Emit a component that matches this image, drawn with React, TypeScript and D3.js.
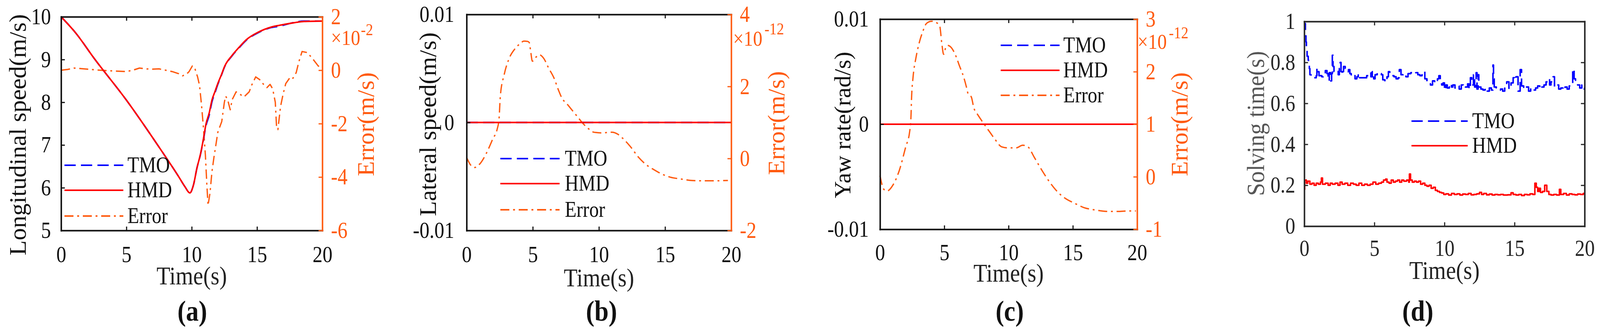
import React, { useRef, useEffect } from 'react';
import * as d3 from 'd3';

type Pt = [number, number];

const W = 4269;
const H = 855;
const FONT = '"Liberation Serif", "Times New Roman", serif';
const ORANGE = '#ff5a0f';
const BLUE = '#0000ff';
const RED = '#ff0000';

const timeTicks = [0, 5, 10, 15, 20];

// (a) longitudinal speed (m/s)
const speedHMD: Pt[] = [
  [0, 10], [1.15, 9.61], [2.5, 9.04], [5, 8.05], [7.5, 6.95], [9, 6.26], [9.47, 6.03], [9.86, 5.88],
  [10.13, 6.06], [10.4, 6.46], [10.68, 6.8], [10.9, 7.15], [11.1, 7.5], [11.34, 7.75], [11.55, 8.05],
  [11.78, 8.25], [12.0, 8.44], [12.27, 8.64], [12.52, 8.84], [13.1, 9.1], [13.64, 9.29], [14.17, 9.46],
  [15.1, 9.64], [16.1, 9.76], [16.7, 9.8], [17.6, 9.85], [18.6, 9.89], [20, 9.9],
];
const speedTMO: Pt[] = [
  [0, 10], [1.15, 9.61], [2.5, 9.04], [5, 8.05], [7.5, 6.95], [9, 6.26], [9.47, 6.03], [9.86, 5.88],
  [10.13, 6.06], [10.4, 6.46], [10.68, 6.79], [10.9, 7.13], [11.1, 7.46], [11.34, 7.7], [11.55, 8.01],
  [11.78, 8.22], [12.0, 8.42], [12.27, 8.63], [12.52, 8.83], [13.1, 9.09], [13.64, 9.28], [14.17, 9.45],
  [15.1, 9.63], [16.1, 9.75], [16.7, 9.78], [17.6, 9.85], [18.6, 9.9], [20, 9.9],
];
// error, x1e-2 m/s
const speedError: Pt[] = [
  [0, 0], [0.5, 0.03], [1, 0.08], [2, 0.04], [3, 0], [4, -0.03], [5, -0.05], [5.5, 0], [6, 0.08], [6.5, 0.05],
  [7, 0.04], [7.5, 0.05], [8, 0], [8.5, -0.05], [9, -0.13], [9.3, -0.21], [9.6, -0.15], [9.8, -0.05], [10.05, 0.16],
  [10.25, 0.05], [10.45, -0.25], [10.6, -0.57], [10.75, -1.3], [10.9, -2.16], [11.05, -3.2], [11.15, -4.2],
  [11.25, -5.06], [11.4, -4.6], [11.55, -3.8], [11.7, -3.27], [11.85, -2.8], [12.0, -2.32], [12.3, -1.92],
  [12.5, -1.2], [12.6, -0.97], [12.75, -1.1], [12.95, -1.48], [13.1, -1.1], [13.4, -0.81], [13.7, -0.9],
  [14.0, -1.0], [14.4, -0.81], [14.6, -0.55], [14.9, -0.25], [15.2, -0.35], [15.5, -0.53], [15.76, -0.65],
  [16.0, -0.53], [16.2, -0.7], [16.4, -1.2], [16.5, -2.16], [16.6, -2.22], [16.8, -1.36], [17.0, -0.89],
  [17.2, -0.5], [17.56, -0.25], [17.75, -0.3], [18.0, -0.09], [18.2, 0.31], [18.45, 0.7], [18.85, 0.66],
  [19.26, 0.43], [19.7, 0.15], [20, 0.23],
];

// (b) lateral speed (m/s)
const lateralHMD: Pt[] = [[0, 0], [20, 0]];
const lateralTMO: Pt[] = [[0, 0], [20, 0]];
// error, x1e-12 m/s
const lateralError: Pt[] = [
  [0, 0.03], [0.3, -0.18], [0.6, -0.25], [1.0, -0.15], [1.5, 0.15], [2.0, 0.56], [2.3, 0.8], [2.45, 1.1],
  [2.55, 1.74], [2.84, 2.33], [3.24, 2.8], [3.64, 3.04], [4.04, 3.19], [4.33, 3.26], [4.63, 3.25], [4.73, 3.22],
  [4.85, 2.95], [4.97, 2.7], [5.23, 2.81], [5.5, 2.88], [5.83, 2.78], [6.2, 2.51], [6.62, 2.22], [6.92, 1.92],
  [7.2, 1.68], [7.6, 1.51], [8.0, 1.33], [8.4, 1.15], [8.8, 0.97], [9.2, 0.83], [9.6, 0.73], [10.2, 0.71],
  [11.0, 0.73], [11.4, 0.68], [11.8, 0.56], [12.4, 0.32], [13.0, 0.03], [13.6, -0.18], [14.2, -0.32],
  [14.8, -0.44], [15.4, -0.52], [16.2, -0.57], [17.0, -0.61], [17.75, -0.62], [18.75, -0.62], [19.75, -0.61],
];

// (c) yaw rate (rad/s)
const yawHMD: Pt[] = [[0, 0], [20, 0]];
const yawTMO: Pt[] = [[0, 0], [20, 0]];
const yawError: Pt[] = [
  [0, 0.02], [0.3, -0.24], [0.55, -0.27], [1, -0.16], [1.5, 0.12], [2, 0.57], [2.3, 0.85], [2.4, 1.1],
  [2.46, 1.54], [2.56, 1.87], [2.8, 2.27], [3.05, 2.55], [3.32, 2.76], [3.62, 2.92], [4.0, 2.96], [4.34, 2.94],
  [4.65, 2.86], [4.8, 2.55], [4.95, 2.33], [5.1, 2.45], [5.26, 2.5], [5.57, 2.45], [5.88, 2.31], [6.18, 2.11],
  [6.49, 1.91], [6.73, 1.7], [6.85, 1.58], [7.1, 1.52], [7.31, 1.3], [7.5, 1.22], [7.82, 1.1], [8.13, 0.99],
  [8.54, 0.85], [8.95, 0.71], [9.46, 0.57], [9.97, 0.55], [10.58, 0.55], [11.1, 0.6], [11.5, 0.57],
  [12.0, 0.37], [12.6, 0.12], [13.25, -0.12], [13.86, -0.3], [14.47, -0.42], [15.1, -0.5], [15.9, -0.59],
  [16.7, -0.63], [17.75, -0.66], [18.57, -0.66], [19.4, -0.65], [19.9, -0.65],
];

// (d) solving time (s)
const solvingTMO: Pt[] = [
  [0, 0.97], [0.04, 0.99], [0.08, 0.93], [0.12, 0.9], [0.15, 0.86], [0.2, 0.83], [0.28, 0.81], [0.36, 0.77],
  [0.4, 0.74], [0.48, 0.73], [0.65, 0.725], [0.85, 0.735], [0.9, 0.775], [0.95, 0.755], [1.05, 0.735],
  [1.25, 0.73], [1.35, 0.745], [1.5, 0.76], [1.62, 0.745], [1.7, 0.71], [1.78, 0.75], [1.88, 0.71],
  [1.95, 0.745], [2.0, 0.835], [2.05, 0.78], [2.12, 0.755], [2.3, 0.76], [2.42, 0.74], [2.5, 0.77],
  [2.56, 0.8], [2.62, 0.74], [2.7, 0.755], [2.8, 0.78], [2.92, 0.77], [3.05, 0.755], [3.15, 0.765],
  [3.25, 0.745], [3.35, 0.73], [3.5, 0.735], [3.62, 0.72], [3.75, 0.73], [3.85, 0.745], [3.95, 0.725],
  [4.1, 0.725], [4.3, 0.725], [4.45, 0.735], [4.6, 0.75], [4.75, 0.73], [4.85, 0.755], [4.95, 0.72],
  [5.05, 0.74], [5.2, 0.75], [5.35, 0.745], [5.5, 0.74], [5.6, 0.715], [5.75, 0.705], [5.9, 0.73],
  [6.0, 0.755], [6.1, 0.74], [6.25, 0.735], [6.4, 0.73], [6.55, 0.72], [6.7, 0.725], [6.78, 0.765],
  [6.9, 0.74], [7.05, 0.745], [7.25, 0.73], [7.4, 0.745], [7.6, 0.75], [7.75, 0.755], [7.95, 0.75],
  [8.1, 0.74], [8.25, 0.735], [8.4, 0.75], [8.5, 0.755], [8.6, 0.72], [8.75, 0.705], [8.9, 0.7],
  [9.0, 0.69], [9.15, 0.71], [9.3, 0.7], [9.42, 0.7], [9.5, 0.72], [9.6, 0.735], [9.7, 0.71], [9.8, 0.69],
  [9.9, 0.7], [10.0, 0.665], [10.1, 0.69], [10.2, 0.675], [10.35, 0.695], [10.5, 0.68], [10.6, 0.69],
  [10.75, 0.675], [10.9, 0.685], [11.05, 0.67], [11.2, 0.69], [11.35, 0.675], [11.5, 0.68], [11.65, 0.695],
  [11.75, 0.67], [11.85, 0.725], [11.95, 0.69], [12.07, 0.74], [12.15, 0.68], [12.26, 0.75], [12.32, 0.67],
  [12.4, 0.74], [12.45, 0.68], [12.6, 0.67], [12.75, 0.665], [12.9, 0.675], [13.05, 0.66], [13.2, 0.675],
  [13.35, 0.665], [13.46, 0.787], [13.5, 0.72], [13.55, 0.68], [13.7, 0.675], [13.85, 0.665], [14.0, 0.67],
  [14.15, 0.66], [14.3, 0.68], [14.44, 0.705], [14.6, 0.67], [14.75, 0.7], [14.9, 0.725], [15.0, 0.715],
  [15.1, 0.73], [15.25, 0.66], [15.4, 0.765], [15.5, 0.685], [15.65, 0.67], [15.8, 0.68], [16.0, 0.66],
  [16.15, 0.675], [16.3, 0.665], [16.5, 0.675], [16.65, 0.685], [16.8, 0.67], [16.95, 0.68], [17.1, 0.69],
  [17.25, 0.705], [17.4, 0.72], [17.5, 0.69], [17.6, 0.705], [17.75, 0.73], [17.85, 0.68], [18.0, 0.69],
  [18.15, 0.67], [18.3, 0.675], [18.45, 0.665], [18.6, 0.68], [18.75, 0.67], [18.9, 0.685], [19.05, 0.69],
  [19.15, 0.768], [19.25, 0.72], [19.35, 0.7], [19.5, 0.69], [19.65, 0.675], [19.8, 0.69], [19.9, 0.67],
  [20.0, 0.68],
];
const solvingHMD: Pt[] = [
  [0, 0.18], [0.03, 0.225], [0.15, 0.21], [0.25, 0.22], [0.4, 0.205], [0.55, 0.21], [0.7, 0.2], [0.85, 0.21],
  [1.0, 0.205], [1.15, 0.215], [1.22, 0.235], [1.3, 0.205], [1.5, 0.21], [1.7, 0.2], [1.85, 0.21], [2.0, 0.205],
  [2.2, 0.21], [2.4, 0.2], [2.55, 0.215], [2.7, 0.205], [2.9, 0.21], [3.1, 0.2], [3.3, 0.21], [3.5, 0.205],
  [3.7, 0.2], [3.9, 0.21], [4.1, 0.2], [4.3, 0.205], [4.5, 0.2], [4.7, 0.205], [4.9, 0.215], [5.1, 0.205],
  [5.3, 0.21], [5.5, 0.215], [5.65, 0.225], [5.8, 0.23], [5.9, 0.215], [6.05, 0.21], [6.2, 0.225],
  [6.35, 0.215], [6.5, 0.22], [6.65, 0.225], [6.8, 0.215], [6.95, 0.225], [7.1, 0.22], [7.3, 0.225],
  [7.45, 0.215], [7.5, 0.255], [7.58, 0.225], [7.7, 0.215], [7.85, 0.22], [8.0, 0.215], [8.15, 0.22],
  [8.3, 0.205], [8.45, 0.21], [8.6, 0.2], [8.75, 0.195], [8.9, 0.2], [9.05, 0.185], [9.2, 0.19], [9.35, 0.175],
  [9.5, 0.17], [9.65, 0.165], [9.8, 0.162], [9.95, 0.155], [10.1, 0.158], [10.3, 0.152], [10.5, 0.16],
  [10.7, 0.155], [10.9, 0.158], [11.1, 0.152], [11.3, 0.157], [11.5, 0.155], [11.7, 0.16], [11.9, 0.153],
  [12.1, 0.155], [12.3, 0.158], [12.5, 0.165], [12.65, 0.155], [12.8, 0.16], [13.0, 0.153], [13.2, 0.157],
  [13.4, 0.152], [13.6, 0.155], [13.8, 0.153], [14.0, 0.155], [14.2, 0.152], [14.5, 0.153], [14.75, 0.163],
  [14.9, 0.155], [15.1, 0.152], [15.3, 0.155], [15.5, 0.15], [15.7, 0.155], [15.9, 0.153], [16.1, 0.158],
  [16.3, 0.155], [16.45, 0.21], [16.55, 0.19], [16.65, 0.17], [16.75, 0.185], [16.85, 0.165], [17.0, 0.17],
  [17.15, 0.2], [17.3, 0.17], [17.45, 0.155], [17.6, 0.152], [17.8, 0.155], [18.0, 0.152], [18.2, 0.18],
  [18.3, 0.155], [18.5, 0.16], [18.7, 0.152], [18.9, 0.158], [19.1, 0.155], [19.3, 0.153], [19.5, 0.157],
  [19.7, 0.155], [19.9, 0.16], [20.0, 0.163],
];

const speedTicks = [5, 6, 7, 8, 9, 10];
const speedErrTicks = [-6, -4, -2, 0, 2];
const rateTicks = [-0.01, 0, 0.01];
const lateralErrTicks = [-2, 0, 2, 4];
const yawErrTicks = [-1, 0, 1, 2, 3];
const solvingTicks = [0, 0.2, 0.4, 0.6, 0.8, 1];

const DASH = '30 14';
const DASHDOT = '24 10 5 10';
const TICK_FONT = 53;
// glyphs in the source figure are a little taller than wide
const K = 1.1;

interface Series { data: Pt[]; right?: boolean; color: string; dash?: string; width: number; step?: boolean; smooth?: boolean }
interface Panel {
  box: { l: number; r: number; t: number; b: number };
  yL: [number, number]; yLTicks: number[];
  yR?: [number, number]; yRTicks?: number[];
  mult?: { x: number; y: number; ex: number; ey: number; exp: string };
  series: Series[];
  legend: { x1: number; x2: number; tx: number; rows: number[]; items: { label: string; color: string; dash?: string }[] };
  yLabel: { text: string; x: number; y: number; size: number; color: string; len?: number };
  rLabel?: { x: number; y: number };
  xPad: number; xLabelY: number; yPad: number;
  tag: { text: string; x: number; y: number };
  axisColor: string; textColor: string;
}

const legend3 = [
  { label: 'TMO', color: BLUE, dash: DASH },
  { label: 'HMD', color: RED },
  { label: 'Error', color: ORANGE, dash: DASHDOT },
];

const panels: Panel[] = [
  {
    box: { l: 163, r: 860, t: 43, b: 590 },
    yL: [5, 10], yLTicks: speedTicks, yR: [-6, 2], yRTicks: speedErrTicks,
    mult: { x: 883, y: 115, ex: 963, ey: 90, exp: '-2' },
    series: [
      { data: speedError, right: true, color: ORANGE, dash: DASHDOT, width: 3.5 },
      { data: speedTMO, color: BLUE, dash: DASH, width: 4, smooth: true },
      { data: speedHMD, color: RED, width: 4, smooth: true },
    ],
    legend: { x1: 172, x2: 329, tx: 340, rows: [423, 487, 553], items: legend3 },
    yLabel: { text: 'Longitudinal speed(m/s)', x: 69, y: 345, size: 63, color: '#111' },
    rLabel: { x: 997, y: 318 },
    xPad: 40, xLabelY: 728, yPad: 27,
    tag: { text: '(a)', x: 513, y: 821 },
    axisColor: '#111', textColor: '#111',
  },
  {
    box: { l: 1245, r: 1951, t: 37, b: 590 },
    yL: [-0.01, 0.01], yLTicks: rateTicks, yR: [-2, 4], yRTicks: lateralErrTicks,
    mult: { x: 1956, y: 117, ex: 2040, ey: 88, exp: '-12' },
    series: [
      { data: lateralError, right: true, color: ORANGE, dash: DASHDOT, width: 3.5, smooth: true },
      { data: lateralTMO, color: BLUE, dash: DASH, width: 4 },
      { data: lateralHMD, color: RED, width: 4 },
    ],
    legend: { x1: 1335, x2: 1493, tx: 1507, rows: [406, 470, 537], items: legend3 },
    yLabel: { text: 'Lateral speed(m/s)', x: 1163, y: 318, size: 63, color: '#111' },
    rLabel: { x: 2093, y: 315 },
    xPad: 40, xLabelY: 733, yPad: 33,
    tag: { text: '(b)', x: 1605, y: 821 },
    axisColor: '#111', textColor: '#111',
  },
  {
    box: { l: 2348, r: 3034, t: 49, b: 587 },
    yL: [-0.01, 0.01], yLTicks: rateTicks, yR: [-1, 3], yRTicks: yawErrTicks,
    mult: { x: 3035, y: 125, ex: 3119, ey: 98, exp: '-12' },
    series: [
      { data: yawError, right: true, color: ORANGE, dash: DASHDOT, width: 3.5, smooth: true },
      { data: yawTMO, color: BLUE, dash: DASH, width: 4 },
      { data: yawHMD, color: RED, width: 4 },
    ],
    legend: { x1: 2670, x2: 2827, tx: 2837, rows: [116, 180, 244], items: legend3 },
    yLabel: { text: 'Yaw rate(rad/s)', x: 2269, y: 320, size: 61, color: '#111' },
    rLabel: { x: 3168, y: 318 },
    xPad: 38, xLabelY: 721, yPad: 30,
    tag: { text: '(c)', x: 2694, y: 821 },
    axisColor: '#111', textColor: '#111',
  },
  {
    box: { l: 3480, r: 4228, t: 55, b: 579 },
    yL: [0, 1], yLTicks: solvingTicks,
    series: [
      { data: solvingTMO, color: BLUE, dash: DASH, width: 4, step: true },
      { data: solvingHMD, color: RED, width: 4, step: true },
    ],
    legend: { x1: 3766, x2: 3916, tx: 3928, rows: [310, 373], items: legend3.slice(0, 2) },
    yLabel: { text: 'Solving time(s)', x: 3373, y: 316, size: 66, color: '#555', len: 371 },
    xPad: 35, xLabelY: 714, yPad: 24,
    tag: { text: '(d)', x: 3783, y: 821 },
    axisColor: '#262626', textColor: '#262626',
  },
];

type G = d3.Selection<SVGGElement, unknown, null, undefined>;

// horizontal text, stretched vertically about its baseline
function addText(g: G, x: number, y: number, s: string, size: number, fill: string, anchor = 'start', bold = false) {
  return g.append('text')
    .attr('transform', `translate(${x},${y}) scale(1,${K})`)
    .attr('text-anchor', anchor)
    .attr('font-family', FONT)
    .attr('font-size', size)
    .attr('font-weight', bold ? 'bold' : null)
    .attr('fill', fill)
    .text(s);
}

function drawPanel(svg: d3.Selection<SVGSVGElement, unknown, null, undefined>, p: Panel) {
  const { l, r, t, b } = p.box;
  const x = d3.scaleLinear().domain([0, 20]).range([l, r]);
  const yL = d3.scaleLinear().domain(p.yL).range([b, t]);
  const yR = p.yR ? d3.scaleLinear().domain(p.yR).range([b, t]) : null;
  const g = svg.append('g');
  const fmt = (d: d3.NumberValue) => String(+d);

  // data lines
  p.series.forEach((s) => {
    const ys = s.right && yR ? yR : yL;
    const line = d3.line<Pt>()
      .x((d) => x(d[0]))
      .y((d) => ys(d[1]))
      .curve(s.step ? d3.curveStepAfter : s.smooth ? d3.curveMonotoneX : d3.curveLinear);
    g.append('path')
      .attr('d', line(s.data))
      .attr('fill', 'none')
      .attr('stroke', s.color)
      .attr('stroke-width', s.width)
      .attr('stroke-linejoin', 'round')
      .attr('stroke-dasharray', s.dash ?? null);
  });

  const style = (sel: G, color: string, text: string, cy = 0) => {
    sel.attr('font-family', FONT).attr('font-size', TICK_FONT);
    sel.select('.domain').attr('stroke', color).attr('stroke-width', 4).attr('stroke-linecap', 'square');
    sel.selectAll('.tick line').attr('stroke', color).attr('stroke-width', 3);
    sel.selectAll('.tick text')
      .attr('fill', text)
      .attr('transform', `translate(0,${cy}) scale(1,${K}) translate(0,${-cy})`);
  };

  const gTop = g.append('g').attr('transform', `translate(0,${t})`)
    .call(d3.axisTop(x).tickValues(timeTicks).tickSizeInner(-10).tickSizeOuter(0).tickFormat(() => ''));
  style(gTop, p.axisColor, p.textColor);

  const gBottom = g.append('g').attr('transform', `translate(0,${b})`)
    .call(d3.axisBottom(x).tickValues(timeTicks).tickSizeInner(-10).tickSizeOuter(0).tickPadding(p.xPad).tickFormat(fmt));
  style(gBottom, p.axisColor, p.textColor, p.xPad);

  const gLeft = g.append('g').attr('transform', `translate(${l},0)`)
    .call(d3.axisLeft(yL).tickValues(p.yLTicks).tickSizeInner(-10).tickSizeOuter(0).tickPadding(p.yPad).tickFormat(fmt));
  style(gLeft, p.axisColor, p.textColor);

  if (yR && p.yRTicks) {
    const gRight = g.append('g').attr('transform', `translate(${r},0)`)
      .call(d3.axisRight(yR).tickValues(p.yRTicks).tickSizeInner(-10).tickSizeOuter(0).tickPadding(23).tickFormat(fmt));
    style(gRight, ORANGE, ORANGE);
  } else {
    const gRight = g.append('g').attr('transform', `translate(${r},0)`)
      .call(d3.axisRight(yL).tickValues(p.yLTicks).tickSizeInner(-10).tickSizeOuter(0).tickFormat(() => ''));
    style(gRight, p.axisColor, p.textColor);
  }

  // exponent multiplier
  if (p.mult) {
    addText(g, p.mult.x, p.mult.y, '\u00d710', 50, ORANGE);
    addText(g, p.mult.ex, p.mult.ey, p.mult.exp, 39, ORANGE);
  }

  // legend
  p.legend.items.forEach((it, i) => {
    const ry = p.legend.rows[i];
    g.append('line')
      .attr('x1', p.legend.x1).attr('x2', p.legend.x2).attr('y1', ry).attr('y2', ry)
      .attr('stroke', it.color).attr('stroke-width', 4)
      .attr('stroke-dasharray', it.dash ?? null);
    addText(g, p.legend.tx, ry + 18, it.label, 51, '#111');
  });

  // axis titles
  const yl = g.append('text')
    .attr('transform', `translate(${p.yLabel.x},${p.yLabel.y}) rotate(-90)`)
    .attr('text-anchor', 'middle')
    .attr('font-family', FONT).attr('font-size', p.yLabel.size).attr('fill', p.yLabel.color)
    .text(p.yLabel.text);
  if (p.yLabel.len) yl.attr('textLength', p.yLabel.len).attr('lengthAdjust', 'spacingAndGlyphs');

  if (p.rLabel) {
    g.append('text')
      .attr('transform', `translate(${p.rLabel.x},${p.rLabel.y}) rotate(-90)`)
      .attr('text-anchor', 'middle')
      .attr('font-family', FONT).attr('font-size', 63).attr('fill', ORANGE)
      .text('Error(m/s)');
  }

  addText(g, (l + r) / 2, p.xLabelY, 'Time(s)', 60, '#222', 'middle');
  addText(g, p.tag.x, p.tag.y, p.tag.text, 68, '#111', 'middle', true);
}

export default function App() {
  const ref = useRef<SVGSVGElement>(null);

  useEffect(() => {
    if (!ref.current) return;
    const svg = d3.select(ref.current);
    svg.selectAll('*').remove();
    panels.forEach((p) => drawPanel(svg, p));
  }, []);

  // the figure is laid out in a 4269x855 frame and stretched to the window
  return (
    <svg
      ref={ref}
      viewBox={`0 0 ${W} ${H}`}
      preserveAspectRatio="none"
      style={{ position: 'fixed', left: 0, top: 0, width: '100vw', height: '100vh', background: '#fff', display: 'block' }}
    />
  );
}
